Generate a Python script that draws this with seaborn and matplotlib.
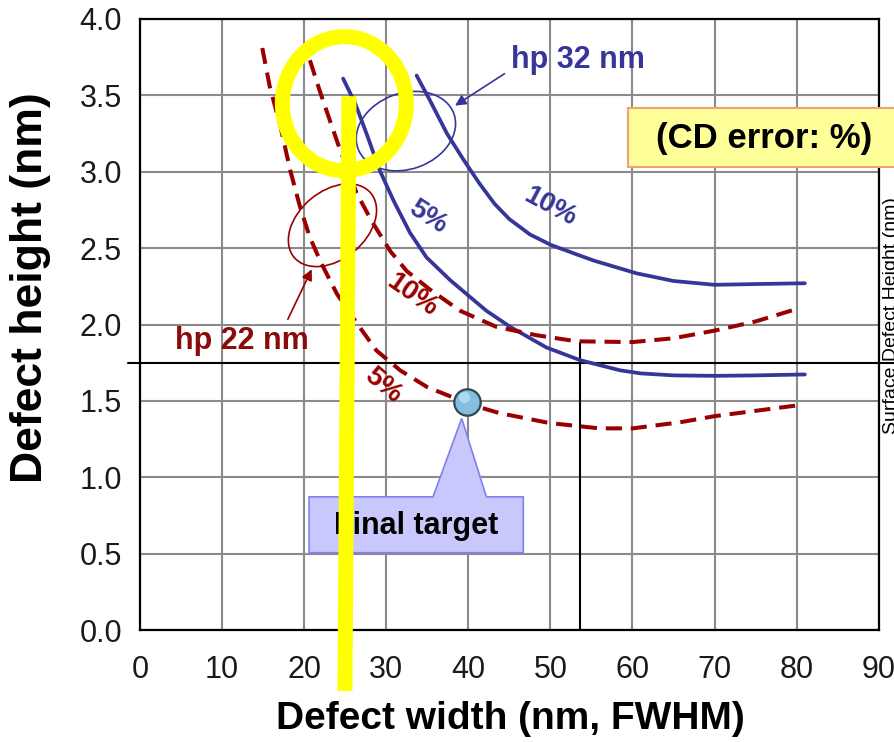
import numpy as np
import pandas as pd
import matplotlib
matplotlib.use("Agg")
import matplotlib.pyplot as plt
import matplotlib.transforms as mtransforms
from matplotlib.patches import Ellipse, Polygon, Rectangle
import seaborn as sns

# ---------------- data ----------------
blue5_x = [24.75, 26.2, 27.6, 29.2, 30.9, 32.9, 34.9, 37.8, 42.2, 45.1, 49.5, 53.6, 58.5, 61.0, 65.0, 70.0, 75.0, 81.0]
blue5_y = [3.61, 3.45, 3.25, 3.01, 2.81, 2.60, 2.44, 2.29, 2.09, 1.985, 1.85, 1.767, 1.70, 1.68, 1.667, 1.664, 1.667, 1.673]

blue10_x = [33.7, 35.3, 37.4, 39.4, 41.4, 43.2, 45.0, 47.5, 50.1, 55.2, 60.5, 65.0, 70.0, 75.1, 81.0]
blue10_y = [3.63, 3.47, 3.25, 3.08, 2.92, 2.79, 2.69, 2.59, 2.52, 2.42, 2.335, 2.285, 2.26, 2.265, 2.27]

red10_x = [20.7, 21.9, 23.3, 24.4, 26.4, 28.2, 30.5, 32.5, 35.3, 39.0, 43.4, 48.3, 53.2, 60.0, 65.0, 70.0, 75.0, 79.9]
red10_y = [3.73, 3.53, 3.31, 3.14, 2.86, 2.68, 2.48, 2.35, 2.23, 2.09, 1.985, 1.93, 1.89, 1.885, 1.91, 1.96, 2.02, 2.10]

red5_x = [14.9, 15.8, 17.1, 18.3, 19.5, 20.7, 22.1, 24.0, 26.4, 28.8, 31.7, 35.0, 37.8, 40.0, 43.8, 49.9, 56.0, 60.0, 65.8, 70.0, 80.0]
red5_y = [3.81, 3.56, 3.30, 3.01, 2.77, 2.57, 2.40, 2.20, 2.01, 1.83, 1.70, 1.59, 1.53, 1.48, 1.42, 1.355, 1.32, 1.32, 1.36, 1.40, 1.47]

target_x = [39.9]
target_y = [1.494]

x_ticks = [0, 10, 20, 30, 40, 50, 60, 70, 80, 90]
y_ticks = [0.0, 0.5, 1.0, 1.5, 2.0, 2.5, 3.0, 3.5, 4.0]

BLUE = "#36369a"
RED = "#9a0000"

# ---------------- figure ----------------
sns.set_theme(style="whitegrid")
plt.rcParams["font.family"] = ["Liberation Sans", "DejaVu Sans"]

fig = plt.figure(figsize=(8.95, 7.42), dpi=100)
ax = fig.add_axes([0.1564, 0.1509, 0.8254, 0.8235])
ax.set_facecolor("white")

sns.lineplot(x=blue5_x, y=blue5_y, sort=False, ax=ax, color=BLUE, lw=2.7, zorder=4)
sns.lineplot(x=blue10_x, y=blue10_y, sort=False, ax=ax, color=BLUE, lw=2.7, zorder=4)
sns.lineplot(x=red10_x, y=red10_y, sort=False, ax=ax, color=RED, lw=2.9,
             linestyle=(0, (4.0, 2.2)), zorder=4)
sns.lineplot(x=red5_x, y=red5_y, sort=False, ax=ax, color=RED, lw=2.9,
             linestyle=(0, (4.0, 2.2)), zorder=4)

ax.set_xlim(0, 90)
ax.set_ylim(0, 4.0)
ax.set_xticks(x_ticks)
ax.set_yticks(y_ticks)
ax.set_yticklabels([f"{v:.1f}" for v in y_ticks])
ax.grid(True, color="#8a8a8a", lw=1.5)
ax.set_axisbelow(True)
for s in ax.spines.values():
    s.set_color("black")
    s.set_linewidth(1.6)
    s.set_visible(True)
ax.tick_params(axis="both", length=0, labelsize=22, labelcolor="#1a1a1a")
ax.tick_params(axis="x", pad=18)
ax.tick_params(axis="y", pad=13)

ax.set_xlabel("Defect width (nm, FWHM)", fontsize=28, fontweight="bold", color="black")
ax.set_ylabel("Defect height (nm)", fontsize=32, fontweight="bold", color="black")
ax.xaxis.set_label_coords(0.502, -0.116)
ax.yaxis.set_label_coords(-0.121, 0.56)

# black reference lines
ax.plot([-1.46, 95], [1.747, 1.747], color="black", lw=1.5, clip_on=False, zorder=3)
ax.plot([53.6, 53.6], [0, 1.878], color="black", lw=1.5, zorder=3)

# target marker
ax.plot(target_x, target_y, "o", ms=19, mfc="#86bedd", mec="#2c4a4e", mew=1.6, zorder=6)
ax.plot([target_x[0] - 0.4], [target_y[0] + 0.03], "o", ms=8, mfc="#b8e0f4", mec="none",
        alpha=0.8, zorder=6)

# helper for ellipses sized in pixels
def px_ellipse(cx, cy, w_px, h_px, angle, **kw):
    tr = fig.dpi_scale_trans + mtransforms.ScaledTranslation(cx, cy, ax.transData)
    e = Ellipse((0, 0), w_px / 100, h_px / 100, angle=angle, transform=tr,
                fill=False, clip_on=False, **kw)
    ax.add_patch(e)

px_ellipse(32.4, 3.266, 102, 76, 20, ec=BLUE, lw=1.2, zorder=5)
px_ellipse(23.45, 2.65, 100, 68, 40, ec=RED, lw=1.2, zorder=5)

# arrows
ax.annotate("", xy=(38.1, 3.423), xytext=(44.7, 3.652),
            arrowprops=dict(arrowstyle="-|>", color=BLUE, lw=1.2, mutation_scale=16), zorder=5)
ax.annotate("", xy=(21.07, 2.378), xytext=(17.87, 2.018),
            arrowprops=dict(arrowstyle="-|>", color=RED, lw=1.2, mutation_scale=16), zorder=5)

# labels
ax.text(53.3, 3.73, "hp 32 nm", color=BLUE, fontsize=22, fontweight="bold",
        ha="center", va="center", zorder=5)
ax.text(12.4, 1.89, "hp 22 nm", color="#8b0a0a", fontsize=22, fontweight="bold",
        ha="center", va="center", zorder=5)
ax.text(35.1, 2.705, "5%", color=BLUE, fontsize=20, fontweight="bold",
        ha="center", va="center", rotation=-33, zorder=5)
ax.text(50.0, 2.77, "10%", color=BLUE, fontsize=20, fontweight="bold",
        ha="center", va="center", rotation=-28, zorder=5)
ax.text(33.1, 2.19, "10%", color=RED, fontsize=20, fontweight="bold",
        ha="center", va="center", rotation=-35, zorder=5)
ax.text(29.6, 1.60, "5%", color=RED, fontsize=20, fontweight="bold",
        ha="center", va="center", rotation=-40, zorder=5)

# CD error box
ax.add_patch(Rectangle((59.4, 3.03), 35, 0.386, facecolor="#ffff99", edgecolor="#f5a070",
                       lw=1.5, clip_on=False, zorder=6))
ax.text(76.0, 3.22, "(CD error: %)", fontsize=25, fontweight="bold", color="black",
        ha="center", va="center", zorder=7)

# Final target callout
callout = [(20.6, 0.506), (20.6, 0.872), (35.7, 0.872), (39.2, 1.385), (42.2, 0.872),
           (46.7, 0.872), (46.7, 0.506)]
ax.add_patch(Polygon(callout, closed=True, facecolor="#c8c8fc", edgecolor="#8080f0",
                     lw=1.2, zorder=6))
ax.text(33.7, 0.68, "Final target", fontsize=22, fontweight="bold", color="black",
        ha="center", va="center", zorder=7)

# clipped text from a neighbouring chart on the right
ax.text(90.5, 2.06, "Surface Defect Height (nm)", fontsize=14, color="black",
        rotation=90, ha="left", va="center", clip_on=False, zorder=7)

# yellow highlight
px_ellipse(24.9, 3.446, 124, 134, 0, ec="#ffff00", lw=10.8, zorder=9)
ax.plot([25.46, 24.97], [3.495, -0.399], color="#ffff00", lw=10.8,
        solid_capstyle="butt", clip_on=False, zorder=9)

fig.savefig("out.png", dpi=100)
